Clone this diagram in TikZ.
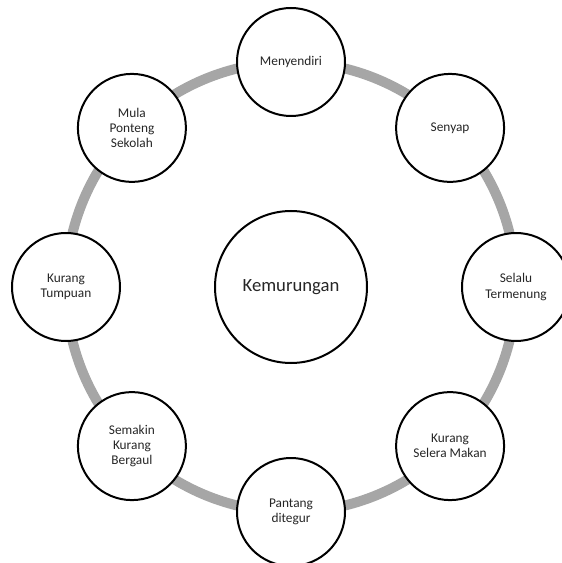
\documentclass[tikz,border=0pt]{standalone}
\usepackage{fontspec}
\setmainfont{Carlito}
\usetikzlibrary{positioning}

\begin{document}
\begin{tikzpicture}[
    x=0.75pt, y=0.75pt,
    ring/.style={draw=black!35, line width=7.5pt},
    hub/.style={circle, draw=black, line width=1.5pt, fill=white,
                minimum size=114pt, inner sep=0pt, font=\fontsize{14}{17}\selectfont},
    petal/.style={circle, draw=black, line width=1.5pt, fill=white,
                  minimum size=81pt, inner sep=0pt, align=center,
                  text=black!85, font=\fontsize{10}{11.5}\selectfont}
]
    % Frame
    \useasboundingbox (-291, -276) rectangle (270, 287);

    % Central node
    \node[hub, text=black!85] (kemurungan) at (0, 0) {Kemurungan};

    % Grey ring behind the outer nodes
    \draw[ring] (kemurungan.center) circle[radius=225];

    % Outer nodes
    \node[petal] (menyendiri) at (90:225)  {Menyendiri};
    \node[petal] (senyap)     at (45:225)  {Senyap};
    \node[petal] (termenung)  at (0:225)   {Selalu\\Termenung};
    \node[petal] (selera)     at (-45:225) {Kurang\\Selera Makan};
    \node[petal] (ditegur)    at (-90:225) {Pantang\\ditegur};
    \node[petal] (bergaul)    at (-135:225) {Semakin\\Kurang\\Bergaul};
    \node[petal] (tumpuan)    at (180:225) {Kurang\\Tumpuan};
    \node[petal] (ponteng)    at (135:225) {Mula\\Ponteng\\Sekolah};
\end{tikzpicture}
\end{document}
